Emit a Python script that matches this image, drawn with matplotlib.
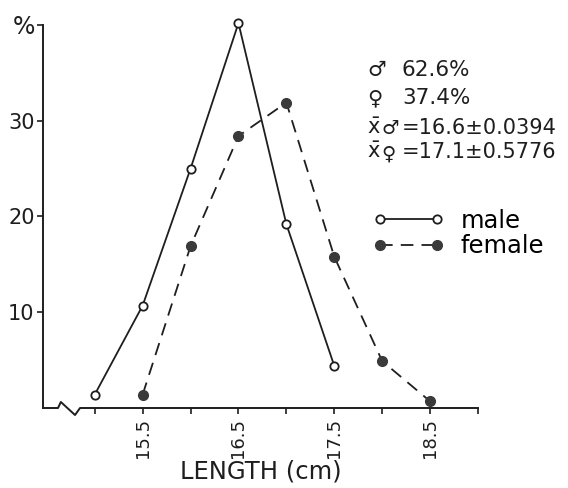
import numpy as np
import matplotlib.pyplot as plt

# length-frequency of the catch (percent per 0.5 cm class)
male_len = [15.0, 15.5, 16.0, 16.5, 17.0, 17.5]
male_pct = [1.4, 10.7, 25.0, 40.2, 19.2, 4.4]
female_len = [15.5, 16.0, 16.5, 17.0, 17.5, 18.0, 18.5]
female_pct = [1.4, 16.9, 28.4, 31.9, 15.8, 4.9, 0.7]

yticks = [10, 20, 30, 40]
ytick_labels = ['10', '20', '30', '%']
xticks = [15.0, 15.5, 16.0, 16.5, 17.0, 17.5, 18.0, 18.5, 19.0]
xtick_labels = ['', '15.5', '', '16.5', '', '17.5', '', '18.5', '']

plt.rcParams['font.family'] = ['DejaVu Sans']
ink = '#1e1e1e'

fig = plt.figure(figsize=(5.68, 4.88), dpi=100)
ax = fig.add_axes([43/568, 1-408/488, 435/568, 383/488])

ax.plot(male_len, male_pct, '-', color=ink, lw=1.3, marker='o', ms=6,
        mfc='white', mec=ink, mew=1.3, label='male', clip_on=False)
ax.plot(female_len, female_pct, '--', color=ink, lw=1.3, marker='o', ms=7,
        mfc='#3a3a3a', mec='#3a3a3a', dashes=(7, 4.5), label='female', clip_on=False)

ax.set_xlim(14.46, 19.0)
ax.set_ylim(0, 40)

for s in ['top', 'right', 'bottom']:
    ax.spines[s].set_visible(False)
ax.spines['left'].set_linewidth(1.4)
ax.spines['left'].set_color(ink)

# x axis drawn by hand so it can carry the break mark
bx = [0, 0.0345, 0.041, 0.0736, 0.0851, 1]
by = [0, 0, 0.0157, -0.0183, 0, 0]
ax.plot(bx, by, color=ink, lw=1.4, transform=ax.transAxes, clip_on=False)

ax.set_xticks(xticks)
ax.set_xticklabels(xtick_labels, rotation=90, fontsize=13)
ax.set_yticks(yticks)
ax.set_yticklabels(ytick_labels, fontsize=15)
ax.get_yticklabels()[-1].set_fontsize(17)
ax.tick_params(axis='both', direction='out', length=4, width=1.2, color=ink, labelcolor=ink)
ax.tick_params(axis='x', pad=3)
ax.tick_params(axis='y', pad=2)

ax.set_xlabel('LENGTH (cm)', fontsize=17.5, color=ink, labelpad=1)

# sex ratio and mean lengths
sx = 367/568
nx = 402/568
fig.text(sx, 1-70/488, '\u2642', fontsize=15, color=ink, va='center')
fig.text(nx, 1-70/488, '62.6%', fontsize=15.5, color=ink, va='center')
fig.text(sx, 1-98/488, '\u2640', fontsize=15, color=ink, va='center')
fig.text(nx, 1-98/488, '37.4%', fontsize=15.5, color=ink, va='center')
fig.text(sx, 1-128/488, r'$\bar{\mathrm{x}}$', fontsize=15, color=ink, va='center')
fig.text(381/568, 1-128/488, '\u2642', fontsize=14, color=ink, va='center')
fig.text(nx, 1-128/488, '=16.6\u00b10.0394', fontsize=15, color=ink, va='center')
fig.text(sx, 1-152/488, r'$\bar{\mathrm{x}}$', fontsize=15, color=ink, va='center')
fig.text(381/568, 1-154/488, '\u2640', fontsize=14, color=ink, va='center')
fig.text(nx, 1-152/488, '=17.1\u00b10.5776', fontsize=15, color=ink, va='center')

ax.legend(loc='upper left', bbox_to_anchor=(373/568, 1-209/488), bbox_transform=fig.transFigure,
          frameon=False, numpoints=2, handlelength=2.95, handletextpad=0.65,
          fontsize=17.5, labelspacing=0.05, borderaxespad=0, borderpad=0)

fig.savefig('out.png', dpi=100)
